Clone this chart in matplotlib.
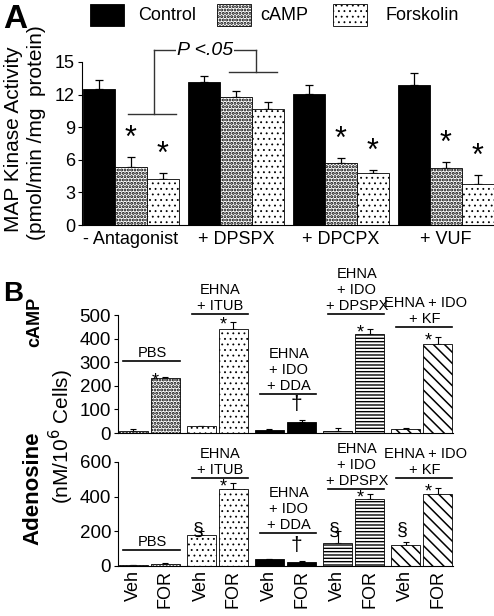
import numpy as np
import matplotlib
matplotlib.use('Agg')
import matplotlib.pyplot as plt
from matplotlib.patches import Rectangle

plt.rcParams['font.family'] = ['Liberation Sans', 'DejaVu Sans']
plt.rcParams['hatch.linewidth'] = 1.1
plt.rcParams['axes.linewidth'] = 0.8

W, H = 494, 616

# Panel A: MAP kinase activity
groups_a = ['- Antagonist', '+ DPSPX', '+ DPCPX', '+ VUF']
series_a = ['Control', 'cAMP', 'Forskolin']
control = [12.5, 13.2, 12.1, 12.9]
control_err = [0.8, 0.5, 0.8, 1.1]
camp = [5.3, 11.8, 5.7, 5.2]
camp_err = [1.0, 0.5, 0.5, 0.6]
forsk = [4.2, 10.7, 4.8, 3.8]
forsk_err = [0.6, 0.6, 0.3, 0.8]
stars_a = [[False, True, True], [False, False, False],
           [False, True, True], [False, True, True]]

# Panel B: cAMP and adenosine
pairs_b = ['PBS', 'EHNA\n+ ITUB', 'EHNA\n+ IDO\n+ DDA',
           'EHNA\n+ IDO\n+ DPSPX', 'EHNA + IDO\n+ KF']
conds_b = ['Veh', 'FOR']
camp_veh = [10, 28, 12, 10, 15]
camp_veh_err = [5, 3, 3, 10, 8]
camp_for = [232, 440, 45, 420, 378]
camp_for_err = [6, 32, 10, 22, 27]
camp_for_mark = ['*', '*', '\u2020', '*', '*']
ado_veh = [3, 180, 38, 135, 120]
ado_veh_err = [3, 20, 2, 65, 18]
ado_for = [10, 445, 22, 385, 415]
ado_for_err = [8, 35, 4, 30, 33]
ado_for_mark = ['', '*', '\u2020', '*', '*']
ado_veh_mark = ['', '\u00a7', '', '\u00a7', '\u00a7']

# styles
dense = dict(color='white', hatch='.....', hlw=1.45)
light = dict(color='white', hatch='...', hlw=0.6)
solid = dict(color='black', hatch=None, hlw=1.0)
styles_a = [solid, dense, light]
styles_b = [dense, light, solid,
            dict(color='white', hatch='-----', hlw=1.0),
            dict(color='white', hatch='\\\\\\', hlw=1.1)]
# bracket heights (data units) above each pair in panel B
bracket_top = [305, 504, 165, 504, 449]
bracket_bot = [92, 508, 190, 444, 508]


def box(l, t, r, b):
    return [l / W, 1 - b / H, (r - l) / W, (b - t) / H]


def ftext(x, y, s, **kw):
    fig.text(x / W, 1 - y / H, s, **kw)


def styled_bar(axx, x, h, width, st):
    with plt.rc_context({'hatch.linewidth': st['hlw']}):
        bars = axx.bar(x, h, width=width, color=st['color'], hatch=st['hatch'],
                       edgecolor='black', linewidth=0.6, zorder=2)
    for b in bars:
        if hasattr(b, 'set_hatch_linewidth'):
            b.set_hatch_linewidth(st['hlw'])
    return bars


fig = plt.figure(figsize=(W / 100, H / 100), dpi=100)

# ---------------- panel A ----------------
ax = fig.add_axes(box(82, 62, 494, 225))
step = 3.28
xa = np.arange(len(groups_a)) * step
vals_a = [control, camp, forsk]
errs_a = [control_err, camp_err, forsk_err]
for i in range(3):
    x = xa + (i - 1)
    styled_bar(ax, x, vals_a[i], 1.0, styles_a[i])
    ax.errorbar(x, vals_a[i], yerr=[np.zeros(4), errs_a[i]], fmt='none',
                ecolor='black', elinewidth=0.9, capsize=3, capthick=0.9, zorder=1)
for g in range(len(groups_a)):
    for i in range(3):
        if stars_a[g][i]:
            top = vals_a[i][g] + errs_a[i][g]
            ax.annotate('*', (xa[g] + i - 1, top), xytext=(0, 7),
                        textcoords='offset points', ha='center', va='baseline',
                        fontsize=22)

ax.set_xlim(-1.53, xa[-1] + 1.51)
ax.set_ylim(0, 15)
ax.set_yticks([0, 3, 6, 9, 12, 15])
ax.tick_params(axis='y', labelsize=13, length=3, width=0.8, pad=2)
ax.set_xticks(xa)
ax.set_xticklabels(groups_a, fontsize=13)
ax.tick_params(axis='x', length=0, pad=4)
for s in ['top', 'right']:
    ax.spines[s].set_visible(False)

# P < .05 bracket
lk = dict(color='#333333', lw=1.0, clip_on=False)
ax.plot([-0.1, 1.42], [10.2, 10.2], **lk)
ax.plot([0.72, 0.72], [10.2, 16.1], **lk)
ax.plot([xa[1] - 0.22, xa[1] + 1.28], [14.1, 14.1], **lk)
ax.plot([xa[1] + 0.63, xa[1] + 0.63], [14.1, 16.1], **lk)
ax.plot([0.72, xa[1] + 0.63], [16.1, 16.1], **lk)
ax.text((0.72 + xa[1] + 0.63) / 2, 16.1, 'P <.05', ha='center', va='center',
        fontsize=14, fontstyle='italic', clip_on=False,
        bbox=dict(facecolor='white', edgecolor='none', pad=1))

# legend
leg_x = [90, 217, 333]
txt_x = [138, 260, 385]
for i, name in enumerate(series_a):
    st = styles_a[i]
    with plt.rc_context({'hatch.linewidth': st['hlw']}):
        rect = Rectangle((leg_x[i] / W, 1 - 26 / H), 34 / W, 22 / H,
                         transform=fig.transFigure, facecolor=st['color'],
                         hatch=st['hatch'], edgecolor='black', lw=0.6)
    if hasattr(rect, 'set_hatch_linewidth'):
        rect.set_hatch_linewidth(st['hlw'])
    fig.patches.append(rect)
    ftext(txt_x[i], 15, name, fontsize=13, va='center', ha='left')

ftext(3, 4, 'A', fontsize=24, fontweight='bold', va='top', ha='left')
ftext(14, 139, 'MAP Kinase Activity', fontsize=15, rotation=90, ha='center', va='center')
ftext(37, 133, '(pmol/min /mg  protein)', fontsize=15, rotation=90, ha='center', va='center')

# ---------------- panel B ----------------
pstep = 2.125
xv = np.arange(len(pairs_b)) * pstep
xf = xv + 1
ticks_b = np.ravel(np.column_stack([xv, xf]))


def panel_b(axb, veh, veh_err, fr, fr_err, for_mark, veh_mark, brk, dag_dy):
    for k in range(len(pairs_b)):
        styled_bar(axb, [xv[k], xf[k]], [veh[k], fr[k]], 0.9, styles_b[k])
    axb.errorbar(xv, veh, yerr=[np.zeros(5), veh_err], fmt='none', ecolor='black',
                 elinewidth=0.8, capsize=2.2, capthick=0.8, zorder=1)
    axb.errorbar(xf, fr, yerr=[np.zeros(5), fr_err], fmt='none', ecolor='black',
                 elinewidth=0.8, capsize=2.2, capthick=0.8, zorder=1)
    for k in range(len(pairs_b)):
        m = for_mark[k]
        top = fr[k] + fr_err[k]
        if m == '*':
            axb.annotate(m, (xf[k], top), xytext=(-7, -6), textcoords='offset points',
                         ha='center', va='baseline', fontsize=13, annotation_clip=False)
        elif m:
            axb.annotate(m, (xf[k], top), xytext=(-4, dag_dy), textcoords='offset points',
                         ha='center', va='bottom', fontsize=15, annotation_clip=False)
        if veh_mark[k]:
            axb.annotate(veh_mark[k], (xv[k] - 0.1, 205), ha='center', va='center',
                         fontsize=14, annotation_clip=False)
        y = brk[k]
        axb.plot([xv[k] - 0.3, xf[k] + 0.45], [y, y], color='black', lw=1.2,
                 clip_on=False)
        axb.annotate(pairs_b[k], ((xv[k] + xf[k]) / 2 + 0.1, y), xytext=(0, 1),
                     textcoords='offset points', ha='center', va='bottom',
                     fontsize=10.5, linespacing=1.15, annotation_clip=False)
    axb.set_xlim(-0.47, xf[-1] + 0.47)
    for s in ['top', 'right']:
        axb.spines[s].set_visible(False)
    axb.tick_params(axis='y', labelsize=13.5, length=3, width=0.8, pad=2)


ax1 = fig.add_axes(box(118, 315, 453, 433))
panel_b(ax1, camp_veh, camp_veh_err, camp_for, camp_for_err, camp_for_mark,
        [''] * 5, bracket_top, 4)
ax1.set_ylim(0, 500)
ax1.set_yticks([0, 100, 200, 300, 400, 500])
ax1.set_xticks([])

ax2 = fig.add_axes(box(118, 462, 453, 566))
panel_b(ax2, ado_veh, ado_veh_err, ado_for, ado_for_err, ado_for_mark,
        ado_veh_mark, bracket_bot, 5)
ax2.set_ylim(0, 600)
ax2.set_yticks([0, 200, 400, 600])
ax2.set_xticks(ticks_b)
ax2.set_xticklabels(conds_b * len(pairs_b), rotation=90, fontsize=13)
ax2.tick_params(axis='x', length=0, pad=3)

ftext(3, 281, 'B', fontsize=20, fontweight='bold', va='top', ha='left')
ftext(35, 322, 'cAMP', fontsize=13, fontweight='bold', rotation=90, ha='center', va='center')
ftext(33, 488, 'Adenosine', fontsize=16, fontweight='bold', rotation=90, ha='center', va='center')
ftext(61, 437, '(nM/10$^6$ Cells)', fontsize=15, rotation=90, ha='center', va='center')

fig.savefig('out.png', dpi=100)
